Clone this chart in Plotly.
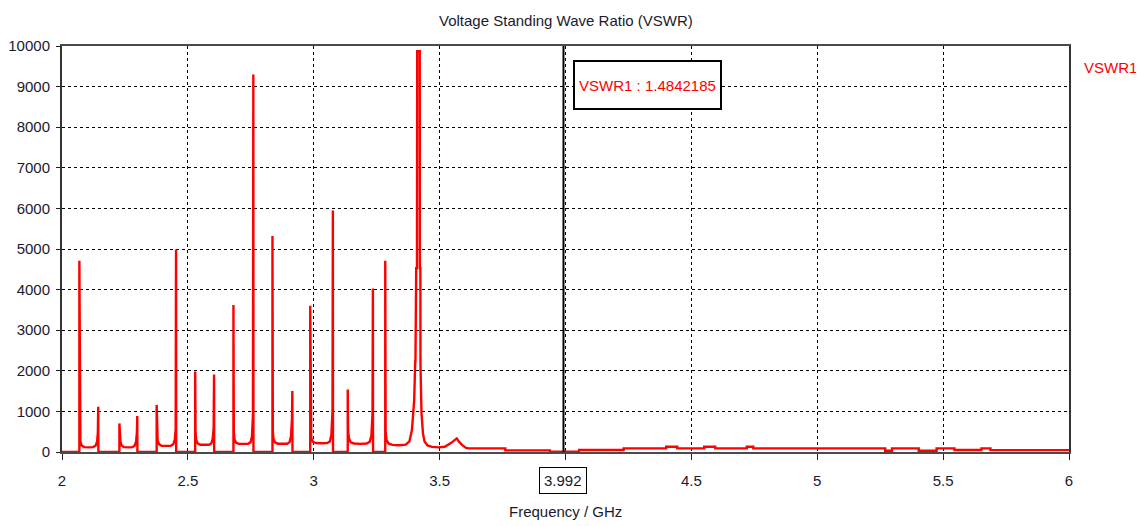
import plotly.graph_objects as go

# ---------------- data ----------------
freq_ghz = [
    2.000, 2.069,
    # cell 1
    2.069, 2.0705, 2.073, 2.078, 2.088, 2.106, 2.124, 2.134, 2.1395, 2.1425, 2.144, 2.1445,
    # gap
    2.228,
    # cell 2
    2.228, 2.2295, 2.232, 2.237, 2.246, 2.263, 2.280, 2.289, 2.2945, 2.2975, 2.299, 2.2995,
    # gap
    2.376,
    # cell 3
    2.376, 2.3775, 2.380, 2.386, 2.396, 2.414, 2.432, 2.442, 2.448, 2.4515, 2.453, 2.4535,
    # gap
    2.529,
    # cell 4
    2.529, 2.5305, 2.533, 2.539, 2.549, 2.566, 2.584, 2.593, 2.5985, 2.6025, 2.604, 2.6045,
    # gap
    2.681,
    # cell 5
    2.681, 2.6825, 2.685, 2.691, 2.702, 2.720, 2.739, 2.749, 2.7545, 2.7585, 2.760, 2.7605,
    # gap
    2.836,
    # cell 6
    2.836, 2.8375, 2.840, 2.846, 2.857, 2.875, 2.894, 2.904, 2.9095, 2.9135, 2.915, 2.9155,
    # gap
    2.986,
    # cell 7
    2.986, 2.9875, 2.990, 2.997, 3.009, 3.031, 3.053, 3.064, 3.070, 3.0745, 3.076, 3.0765,
    # gap
    3.135,
    # cell 8
    3.135, 3.1365, 3.140, 3.147, 3.160, 3.185, 3.210, 3.222, 3.229, 3.2335, 3.235, 3.2355,
    # gap
    3.284,
    # cell 9 with the main resonance
    3.284, 3.2855, 3.289, 3.297, 3.312, 3.340, 3.365, 3.380, 3.390, 3.396, 3.399,
    3.403, 3.404, 3.407, 3.410, 3.411, 3.421, 3.4215, 3.4235, 3.424, 3.428, 3.434,
    3.440, 3.452, 3.470, 3.495, 3.520, 3.545, 3.562, 3.568, 3.576, 3.590, 3.605, 3.615,
    # tail
    3.761, 3.761, 3.938, 3.938, 4.054, 4.054, 4.231, 4.231, 4.400, 4.400, 4.444, 4.444,
    4.551, 4.551, 4.595, 4.595, 4.720, 4.720, 4.746, 4.746, 5.270, 5.270, 5.297, 5.297,
    5.403, 5.403, 5.474, 5.474, 5.545, 5.545, 5.652, 5.652, 5.688, 5.688, 6.000,
]

vswr = [
    1, 1,
    # cell 1
    4710, 430, 260, 160, 120, 115, 120, 160, 260, 480, 1115, 1,
    1,
    # cell 2
    705, 430, 260, 160, 120, 115, 120, 160, 260, 480, 885, 1,
    1,
    # cell 3
    1160, 450, 280, 190, 155, 150, 155, 190, 300, 560, 4990, 1,
    1,
    # cell 4
    1980, 470, 300, 210, 180, 175, 180, 210, 320, 600, 1910, 1,
    1,
    # cell 5
    3620, 500, 320, 230, 200, 195, 200, 240, 380, 900, 9300, 1,
    1,
    # cell 6
    5320, 520, 330, 235, 205, 200, 205, 240, 380, 800, 1500, 1,
    1,
    # cell 7
    3600, 540, 340, 250, 220, 215, 220, 260, 420, 1000, 5950, 1,
    1,
    # cell 8
    1540, 520, 330, 240, 210, 200, 210, 250, 400, 950, 4030, 1,
    1,
    # cell 9
    4710, 480, 300, 210, 175, 165, 180, 260, 540, 1100, 1280,
    2230, 2230, 4530, 4530, 9870, 9870, 4530, 4530, 2140, 960, 450,
    260, 160, 125, 115, 130, 220, 320, 335, 260, 170, 100, 90,
    # tail
    90, 40, 40, 6, 6, 50, 50, 90, 90, 130, 130, 90,
    90, 130, 130, 90, 90, 130, 130, 90, 90, 30, 30, 90,
    90, 30, 30, 90, 90, 50, 50, 90, 90, 45, 45,
]

x_tick_vals = [2, 2.5, 3, 3.5, 4, 4.5, 5, 5.5, 6]
x_tick_text = ["2", "2.5", "3", "3.5", "", "4.5", "5", "5.5", "6"]
y_tick_vals = [0, 1000, 2000, 3000, 4000, 5000, 6000, 7000, 8000, 9000, 10000]
y_tick_text = ["0", "1000", "2000", "3000", "4000", "5000", "6000", "7000", "8000", "9000", "10000"]

marker_freq = 3.992
marker_label = "3.992"
marker_text = "VSWR1 : 1.4842185"
series_name = "VSWR1"
title_text = "Voltage Standing Wave Ratio (VSWR)"
x_title = "Frequency / GHz"

# ---------------- figure ----------------
FONT = "Liberation Sans, Arial, sans-serif"
FS = 15
TXT = "#1a1a2e"

fig = go.Figure()
fig.add_trace(go.Scatter(
    x=freq_ghz, y=vswr, mode="lines", name=series_name,
    line=dict(color="#ff0000", width=2.4), showlegend=False,
))

# page body has an 8px margin, so the figure is sized to the remaining area
fig.update_layout(
    width=1136, height=518,
    margin=dict(l=54, r=75, t=38, b=74, autoexpand=False),
    paper_bgcolor="white", plot_bgcolor="white",
    font=dict(family=FONT, size=FS, color=TXT),
    showlegend=False,
)

fig.update_xaxes(
    range=[2, 6], tickvals=x_tick_vals, ticktext=x_tick_text,
    showgrid=True, gridcolor="#000000", gridwidth=1, griddash="3px,3px",
    showline=True, linecolor="#4a4a4a", linewidth=2, mirror=True,
    ticks="outside", ticklen=6, tickcolor="#222", tickwidth=1,
    ticklabelstandoff=8, zeroline=False, automargin=False,
    tickfont=dict(family=FONT, size=FS, color=TXT),
)
fig.update_yaxes(
    range=[0, 10000], tickvals=y_tick_vals, ticktext=y_tick_text,
    showgrid=True, gridcolor="#000000", gridwidth=1, griddash="3px,3px",
    showline=True, linecolor="#333333", linewidth=2, mirror=True,
    ticks="outside", ticklen=4, tickcolor="#222", tickwidth=1,
    ticklabelstandoff=3, zeroline=False, automargin=False,
    tickfont=dict(family=FONT, size=FS, color=TXT),
)

# marker line
fig.add_shape(type="line", xref="x", yref="paper", x0=marker_freq, x1=marker_freq,
              y0=0, y1=1, line=dict(color="#000000", width=2))

annotations = [
    # title
    dict(text=title_text, xref="paper", yref="paper", x=0.5, y=1, yshift=26,
         xanchor="center", yanchor="middle", showarrow=False,
         font=dict(family=FONT, size=FS, color=TXT)),
    # x axis title
    dict(text=x_title, xref="paper", yref="paper", x=0.5, y=0, yshift=-59,
         xanchor="center", yanchor="middle", showarrow=False,
         font=dict(family=FONT, size=FS, color=TXT)),
    # marker x-label box
    dict(text=marker_label, xref="x", yref="paper", x=marker_freq, y=0, yshift=-28,
         xanchor="center", yanchor="middle", showarrow=False,
         bordercolor="#000000", borderwidth=1, borderpad=4, bgcolor="white",
         font=dict(family=FONT, size=FS, color=TXT)),
    # marker value box
    dict(text=marker_text, xref="x", yref="paper", x=marker_freq, y=0.904, xshift=10,
         xanchor="left", yanchor="middle", showarrow=False,
         width=141, height=42, borderpad=2,
         bordercolor="#000000", borderwidth=2, bgcolor="white",
         font=dict(family=FONT, size=FS, color="#ff0000")),
    # series label (legend)
    dict(text=series_name, xref="paper", yref="paper", x=1.013, y=0.947,
         xanchor="left", yanchor="middle", showarrow=False,
         font=dict(family=FONT, size=FS, color="#ff0000")),
]
fig.update_layout(annotations=annotations)

fig.write_html("out.html")
